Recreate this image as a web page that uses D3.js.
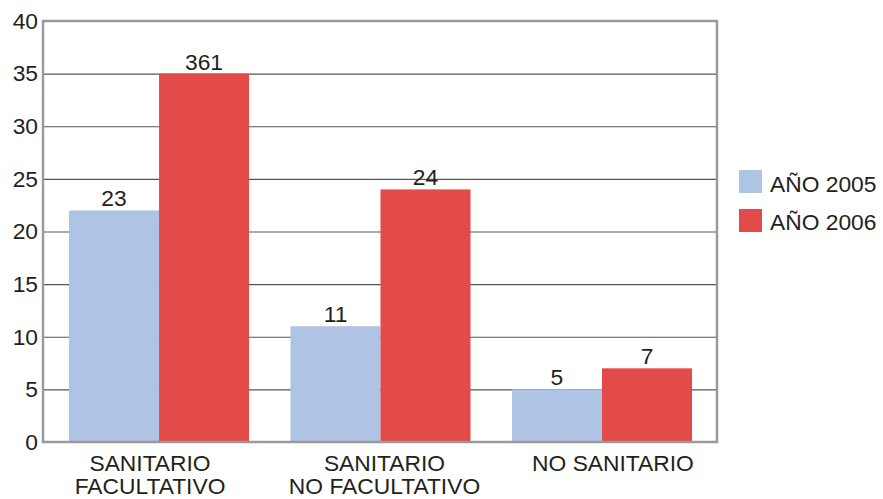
<!DOCTYPE html>
<html><head><meta charset="utf-8">
<script src="https://cdn.jsdelivr.net/npm/d3@7/dist/d3.min.js"></script>
<style>body{margin:0;background:#fff}svg{display:block}text{font-family:"Liberation Sans",Arial,sans-serif;fill:#231f20}</style>
</head><body><svg id="c" width="883" height="499"></svg>
<script>
const categories = [["SANITARIO","FACULTATIVO"],["SANITARIO","NO FACULTATIVO"],["NO SANITARIO"]];
const seriesNames = ["AÑO 2005","AÑO 2006"];
const values2005 = [22, 11, 5];
const values2006 = [35, 24, 7];
const labels2005 = ["23","11","5"];
const labels2006 = ["361","24","7"];
const yTicks = [0,5,10,15,20,25,30,35,40];
const colors = ["#afc4e4","#e34a4a"];

(function(){
const FS = 22.8;
const svg = d3.select("#c");
const pL = 43, pR = 717, pT = 21, pB = 442;
const y = d3.scaleLinear().domain([0,40]).range([pB, pT]);
const catIdx = categories.map((c,i)=>i);
const x0 = d3.scaleBand().domain(catIdx).range([69,692]).paddingInner(0.187).paddingOuter(0);
const x1 = d3.scaleBand().domain([0,1]).range([0, x0.bandwidth()]);

// gridlines
svg.append("g").selectAll("line").data(yTicks.filter(t=>t>0 && t<40)).join("line")
  .attr("x1", pL).attr("x2", pR).attr("y1", d=>y(d)+0.5).attr("y2", d=>y(d)+0.5)
  .attr("stroke","#555").attr("stroke-width",1.2);

// y axis labels
const yAxis = d3.axisLeft(y).tickValues(yTicks).tickSize(0).tickPadding(5);
const ga = svg.append("g").attr("transform",`translate(${pL},0)`).call(yAxis);
ga.select(".domain").remove();
ga.selectAll("text").attr("font-size",FS).style("font-family","'Liberation Sans',Arial,sans-serif").attr("fill","#231f20");

// bars
const series = [values2005, values2006];
const labels = [labels2005, labels2006];
series.forEach((vals, s) => {
  const g = svg.append("g");
  g.selectAll("rect").data(vals).join("rect")
    .attr("x",(d,i)=>x0(i)+x1(s)).attr("width",x1.bandwidth())
    .attr("y",d=>y(d)).attr("height",d=>y(0)-y(d)).attr("fill",colors[s]);
  g.selectAll("text").data(vals).join("text")
    .attr("x",(d,i)=>x0(i)+x1(s)+x1.bandwidth()/2).attr("y",d=>y(d)-4)
    .attr("text-anchor","middle").attr("font-size",FS).text((d,i)=>labels[s][i]);
});

// frame
svg.append("rect").attr("x",pL).attr("y",pT).attr("width",pR-pL).attr("height",pB-pT)
  .attr("fill","none").attr("stroke","#9a9a9a").attr("stroke-width",2.5);

// category labels
const cg = svg.append("g");
const off = [-9, 4, 11];
categories.forEach((lines,i)=>{
  const cx = x0(i)+x0.bandwidth()/2 + off[i];
  const t = cg.append("text").attr("text-anchor","middle").attr("font-size",FS)
    .attr("x", cx).attr("y",471);
  lines.forEach((l,k)=>t.append("tspan").attr("x", cx).attr("dy",k?23:0).text(l));
});

// legend
const lg = svg.append("g");
seriesNames.forEach((n,s)=>{
  lg.append("rect").attr("x",739).attr("y",170+s*39).attr("width",23).attr("height",23).attr("fill",colors[s]);
  lg.append("text").attr("x",770).attr("y",192+s*38).attr("font-size",FS).text(n);
});
})();
</script></body></html>
